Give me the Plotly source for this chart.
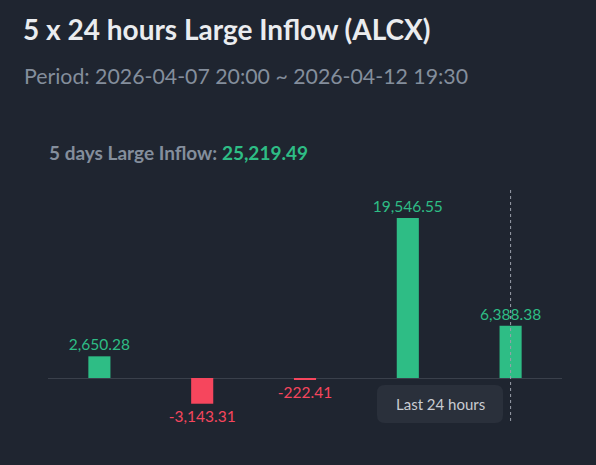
import plotly.graph_objects as go

categories = ["D1", "D2", "D3", "D4", "D5"]
values = [2650.28, -3143.31, -222.41, 19546.55, 6388.38]
total_inflow = 25219.49
title_text = "5 x 24 hours Large Inflow (ALCX)"
period_text = "Period: 2026-04-07 20:00 ~ 2026-04-12 19:30"
marker_label = "Last 24 hours"

GREEN = "#2ebd85"
RED = "#f6465d"
BG = "#1f2530"
FONT = "Lato, 'Open Sans', sans-serif"

colors = [GREEN if v >= 0 else RED for v in values]

fig = go.Figure(go.Bar(
    x=categories, y=values,
    marker=dict(color=colors, line=dict(color=colors, width=0)),
    width=0.215,
    texttemplate="%{y:,.2f}", textposition="outside", constraintext="none",
    textfont=dict(color=colors, size=15.5, family=FONT),
    cliponaxis=False, hoverinfo="skip",
))

W, H = 596, 465
L, R, T, B = 48, 34, 180, 25
pw, ph = W - L - R, H - T - B

def px(x):
    return (x - L) / pw

def py(y):
    return (H - B - y) / ph

annotations = [
    dict(text="<b>" + title_text + "</b>", x=px(21), y=py(29), xref="paper", yref="paper",
         xanchor="left", yanchor="middle", showarrow=False,
         font=dict(size=28, color="#eaecef", family=FONT)),
    dict(text=period_text, x=px(22), y=py(76), xref="paper", yref="paper",
         xanchor="left", yanchor="middle", showarrow=False,
         font=dict(size=21.3, color="#848e9c", family=FONT)),
    dict(text="<b>5 days Large Inflow: </b><b><span style='color:%s'>%s</span></b>" % (GREEN, f"{total_inflow:,.2f}"),
         x=px(47), y=py(153), xref="paper", yref="paper",
         xanchor="left", yanchor="middle", showarrow=False,
         font=dict(size=19, color="#848e9c", family=FONT)),
    dict(text=marker_label, x=px(440), y=py(404), xref="paper", yref="paper",
         xanchor="center", yanchor="middle", showarrow=False,
         font=dict(size=15, color="#c9ccd2", family=FONT)),
]

bw, bh, r = 126, 38, 8
hw, hh = bw / 2, bh / 2
path = (f"M {-hw + r},{-hh} L {hw - r},{-hh} Q {hw},{-hh} {hw},{-hh + r} "
        f"L {hw},{hh - r} Q {hw},{hh} {hw - r},{hh} L {-hw + r},{hh} "
        f"Q {-hw},{hh} {-hw},{hh - r} L {-hw},{-hh + r} Q {-hw},{-hh} {-hw + r},{-hh} Z")

shapes = [
    dict(type="path", xref="paper", yref="paper", xsizemode="pixel", ysizemode="pixel",
         xanchor=px(440), yanchor=py(404), path=path,
         fillcolor="#2a303b", line=dict(width=0), layer="below"),
    dict(type="line", xref="x", yref="paper", x0=categories[-1], x1=categories[-1],
         y0=py(190), y1=py(423), line=dict(color="#9aa1ac", width=1, dash="3px,3px"),
         layer="above"),
]

scale = 160 / 19546.55
fig.update_layout(
    width=W, height=H,
    margin=dict(l=L, r=R, t=T, b=B),
    paper_bgcolor=BG, plot_bgcolor=BG,
    showlegend=False,
    annotations=annotations, shapes=shapes,
    xaxis=dict(range=[-0.5, 4.5], showticklabels=False, showgrid=False, zeroline=False,
               showline=False, fixedrange=True),
    yaxis=dict(range=[-(440 - 378) / scale, (378 - 180) / scale], showticklabels=False,
               showgrid=False, zeroline=True, zerolinecolor="#3a404b", zerolinewidth=1,
               showline=False, fixedrange=True),
    font=dict(family=FONT),
)

fig.write_html(
    "out.html",
    config=dict(displayModeBar=False),
    post_script="document.body.style.margin='0';document.body.style.background='%s';" % BG,
)
